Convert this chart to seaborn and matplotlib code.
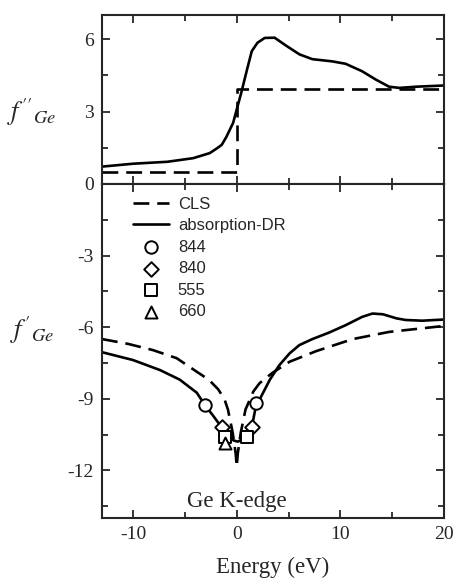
import numpy as np
import pandas as pd
import matplotlib
matplotlib.use("Agg")
import matplotlib.pyplot as plt
import seaborn as sns
from matplotlib.ticker import MultipleLocator

# ---- data ----
# f'' (top panel)
dr_fpp_x = [-13, -10, -6.7, -4.2, -2.6, -1.9, -1.45, -1.0, -0.35, 0.45, 1.0, 1.45, 2.0, 2.7, 3.65, 4.8, 6.05, 7.3, 9.2, 10.5, 12.1, 13.4, 14.7, 15.7, 17.3, 20]
dr_fpp_y = [0.72, 0.84, 0.92, 1.07, 1.28, 1.48, 1.62, 1.95, 2.53, 3.8, 4.75, 5.5, 5.85, 6.05, 6.06, 5.72, 5.37, 5.17, 5.08, 4.98, 4.67, 4.33, 4.03, 3.98, 4.03, 4.08]
cls_fpp_x = [-13, 0, 0, 20]
cls_fpp_y = [0.5, 0.5, 3.92, 3.92]

# f' (bottom panel)
dr_fp_x = [-13, -10, -7.4, -5.5, -3.85, -3.1, -2.3, -1.45, -0.8, -0.3, 0.1, 0.6, 1.1, 1.45, 1.9, 2.2, 3.2, 4.1, 5.1, 6.05, 7.3, 8.9, 10.5, 12.1, 13.1, 14.1, 15.4, 16.3, 17.9, 20]
dr_fp_y = [-7.05, -7.38, -7.8, -8.2, -8.75, -9.25, -9.7, -10.2, -10.55, -10.75, -10.8, -10.7, -10.45, -10.2, -9.2, -9.04, -8.2, -7.6, -7.1, -6.75, -6.5, -6.23, -5.92, -5.57, -5.43, -5.46, -5.63, -5.7, -5.73, -5.68]
cls_fp_x = [-13, -10.5, -8.1, -5.8, -3.75, -2.7, -1.8, -1.2, -0.85, -0.4, -0.1, 0.0, 0.1, 0.4, 0.85, 1.6, 2.2, 2.9, 3.5, 5.1, 7.7, 11.2, 14.7, 20]
cls_fp_y = [-6.5, -6.7, -6.96, -7.3, -7.9, -8.2, -8.6, -9.0, -9.45, -10.4, -11.3, -11.85, -11.3, -10.4, -9.45, -8.7, -8.35, -8.1, -7.9, -7.45, -7.0, -6.5, -6.2, -5.95]

m844_x = [-3.1, 1.9]
m844_y = [-9.25, -9.2]
m840_x = [-1.45, 1.45]
m840_y = [-10.2, -10.2]
m555_x = [-1.15, 0.95]
m555_y = [-10.6, -10.6]
m660_x = [-1.15]
m660_y = [-10.85]

sns.set_style("ticks")
plt.rcParams["font.family"] = ["Liberation Serif", "DejaVu Serif"]
plt.rcParams["mathtext.fontset"] = "stix"
plt.rcParams["axes.unicode_minus"] = False

fig = plt.figure(figsize=(4.55, 5.79), dpi=100)
L, R = 102 / 455, 444 / 455
ax1 = fig.add_axes([L, 1 - 184 / 579, R - L, (184 - 15) / 579])
ax2 = fig.add_axes([L, 1 - 518 / 579, R - L, (518 - 184) / 579])

lw = 1.9
dash = (6, 3)

sns.lineplot(x=dr_fpp_x, y=dr_fpp_y, ax=ax1, color="black", lw=lw, estimator=None, sort=False)
sns.lineplot(x=cls_fpp_x, y=cls_fpp_y, ax=ax1, color="black", lw=lw, estimator=None, sort=False)
ax1.lines[-1].set_dashes(dash)

sns.lineplot(x=cls_fp_x, y=cls_fp_y, ax=ax2, color="black", lw=lw, estimator=None, sort=False, label="CLS")
ax2.lines[-1].set_dashes(dash)
sns.lineplot(x=dr_fp_x, y=dr_fp_y, ax=ax2, color="black", lw=lw, estimator=None, sort=False, label="absorption-DR")

mk = dict(facecolor="white", edgecolor="black", linewidth=1.4, zorder=5)
sns.scatterplot(x=m844_x, y=m844_y, ax=ax2, marker="o", s=80, label="844", **mk)
sns.scatterplot(x=m840_x, y=m840_y, ax=ax2, marker="D", s=55, label="840", **mk)
sns.scatterplot(x=m555_x, y=m555_y, ax=ax2, marker="s", s=65, label="555", **mk)
sns.scatterplot(x=m660_x, y=m660_y, ax=ax2, marker="^", s=75, label="660", **mk)

for ax in (ax1, ax2):
    ax.set_xlim(-13, 20)
    ax.xaxis.set_major_locator(MultipleLocator(10))
    ax.xaxis.set_minor_locator(MultipleLocator(5))
    ax.yaxis.set_major_locator(MultipleLocator(3))
    ax.yaxis.set_minor_locator(MultipleLocator(1.5))
    ax.tick_params(which="both", direction="in", top=True, right=True, width=1.3, labelsize=14, pad=6)
    ax.tick_params(which="major", length=6)
    ax.tick_params(which="minor", length=4)
    for s in ax.spines.values():
        s.set_linewidth(1.5)
    ax.set_xlabel("")
    ax.set_ylabel("")

ax1.set_ylim(0, 7)
ax1.set_yticks([0, 3, 6])
ax1.tick_params(labelbottom=False)

ax2.set_ylim(-14, 0)
ax2.set_yticks([-12, -9, -6, -3])
ax2.set_xticks([-10, 0, 10, 20])
ax2.set_xlabel("Energy (eV)", fontsize=16.5, labelpad=10)

fig.text(32 / 455, 1 - 112 / 579, r"$f''_{Ge}$", fontsize=19, ha="center", va="center")
fig.text(32 / 455, 1 - 330 / 579, r"$f'_{Ge}$", fontsize=19, ha="center", va="center")

ax2.text(0, -13.3, "Ge K-edge", fontsize=16.5, ha="center", va="center")

leg = ax2.legend(loc="upper left", bbox_to_anchor=(0.09, 0.962), frameon=False,
                 prop={"family": "Liberation Sans", "size": 12}, handlelength=2.2,
                 handletextpad=0.5, labelspacing=0.39, borderpad=0, borderaxespad=0,
                 scatterpoints=1)

fig.savefig("out.png", dpi=100)
